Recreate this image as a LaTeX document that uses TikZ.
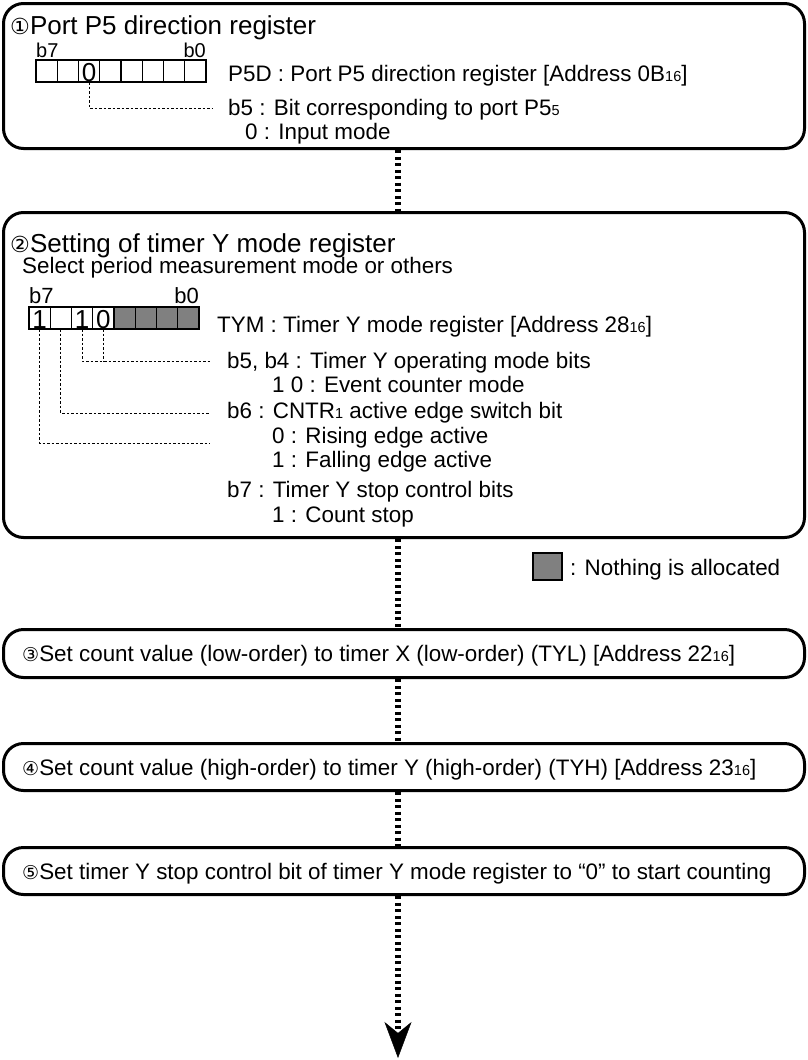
\documentclass[tikz,border=0pt]{standalone}
\usepackage{fontspec}
\setmainfont{Liberation Sans}
\newfontfamily\circfont[Scale=0.85]{DejaVu Sans}
\usetikzlibrary{arrows.meta,positioning,calc}

\newcommand{\low}[1]{{\fontsize{14.5}{14.5}\selectfont #1}}
\newcommand{\cnum}[1]{{\circfont #1}}

\tikzset{
  stepbox/.style={draw, line width=3pt, rounded corners=20pt, inner sep=0pt, minimum width=801pt},
  cell/.style={draw, line width=1.2pt, minimum width=21.25pt, minimum height=22pt, inner sep=0pt, outer sep=0pt},
  freecell/.style={cell, fill=gray},
  leader/.style={line width=1pt, dash pattern=on 2.5pt off 2pt},
  flow/.style={line width=6.5pt, dash pattern=on 3pt off 3.5pt},
  txt/.style={anchor=base west, inner sep=0pt, font=\fontsize{22.4}{26}\selectfont},
  ttl/.style={anchor=base west, inner sep=0pt, font=\fontsize{26}{30}\selectfont},
  bitlbl/.style={inner sep=0pt},
  bitval/.style={anchor=base, inner sep=0pt, font=\fontsize{26}{26}\selectfont},
}

\begin{document}
\begin{tikzpicture}[x=1pt, y=-1pt]
    \useasboundingbox (0,0) rectangle (808,1060);

    % Schritt-Kaesten
    \node[stepbox, minimum height=145pt] (s1) at (404,76) {};
    \node[stepbox, minimum height=325pt] (s2) at (404,375) {};
    \node[stepbox, minimum height=48pt] (s3) at (404,653.5) {};
    \node[stepbox, minimum height=47pt] (s4) at (404,767) {};
    \node[stepbox, minimum height=47pt] (s5) at (404,871) {};

    % 1: Port P5 direction register
    \node[ttl] (t1) at (10,34) {\cnum{①}Port P5 direction register};
    \foreach \i in {0,...,7}
        \node[cell] (p\i) at ({46.625+21.25*(7-\i)}, 71) {};
    \node[bitlbl, font=\fontsize{20}{20}\selectfont, anchor=base west] (p7l) at ([yshift=3pt]p7.north west) {b7};
    \node[bitlbl, font=\fontsize{20}{20}\selectfont, anchor=base east] (p0l) at ([yshift=3pt]p0.north east) {b0};
    \node[bitval] (p5v) at ([yshift=1pt]p5.south) {0};
    \node[txt] (p5d) at (228,81) {P5D : Port P5 direction register [Address 0B\low{16}]};
    \node[txt] (p5b) at (228,115) {b5 : Bit corresponding to port P5\low{5}};
    \node[txt] (p5m) at (245,139) {0 : Input mode};
    \coordinate (e5) at (213,108);
    \draw[leader] (p5.south) |- (e5);

    % 2: Setting of timer Y mode register
    \node[ttl] (t2) at (10,252) {\cnum{②}Setting of timer Y mode register};
    \node[txt] (t2s) at (22,273) {Select period measurement mode or others};
    \foreach \i in {7,...,4}
        \node[cell] (q\i) at ({39.625+21.25*(7-\i)}, 318) {};
    \foreach \i in {3,...,0}
        \node[freecell] (q\i) at ({39.625+21.25*(7-\i)}, 318) {};
    \node[bitlbl, font=\fontsize{22}{22}\selectfont, anchor=base west] (q7l) at ([yshift=4pt]q7.north west) {b7};
    \node[bitlbl, font=\fontsize{22}{22}\selectfont, anchor=base east] (q0l) at ([yshift=4pt]q0.north east) {b0};
    \node[bitval] (q7v) at ([yshift=1pt]q7.south) {1};
    \node[bitval] (q5v) at ([yshift=1pt]q5.south) {1};
    \node[bitval] (q4v) at ([yshift=1pt]q4.south) {0};
    \node[txt] (tym) at (217,332) {TYM : Timer Y mode register [Address 28\low{16}]};
    \node[txt] (b54) at (227,368) {b5, b4 : Timer Y operating mode bits};
    \node[txt] (b54m) at (272,392) {1 0 : Event counter mode};
    \node[txt] (b6) at (227,418) {b6 : CNTR\low{1} active edge switch bit};
    \node[txt] (b6r) at (272,443) {0 : Rising edge active};
    \node[txt] (b6f) at (272,467) {1 : Falling edge active};
    \node[txt] (b7) at (227,497) {b7 : Timer Y stop control bits};
    \node[txt] (b7s) at (272,522) {1 : Count stop};
    \coordinate (e54) at (210,361);
    \coordinate (e6) at (210,413);
    \coordinate (e7) at (210,443);
    \draw[leader] (q5.south) |- (e54);
    \draw[leader] (q4.south) -- (q4.south |- e54);
    \draw[leader] (q6.south) |- (e6);
    \draw[leader] (q7.south) |- (e7);

    % Legende
    \node[draw, line width=1.2pt, fill=gray, minimum width=29pt, minimum height=27pt, inner sep=0pt] (leg) at (547.5,566.5) {};
    \node[txt] (legt) at (570,575) {: Nothing is allocated};

    % 3 bis 5
    \node[txt] (t3) at (22,661.5) {\cnum{③}Set count value (low-order) to timer X (low-order) (TYL) [Address 22\low{16}]};
    \node[txt] (t4) at (22,775) {\cnum{④}Set count value (high-order) to timer Y (high-order) (TYH) [Address 23\low{16}]};
    \node[txt] (t5) at (22,879) {\cnum{⑤}Set timer Y stop control bit of timer Y mode register to “0” to start counting};

    % Ablauf
    \coordinate (end) at (398,1058);
    \draw[flow] ([xshift=-6pt]s1.south) -- ([xshift=-6pt]s2.north);
    \draw[flow] ([xshift=-6pt]s2.south) -- ([xshift=-6pt]s3.north);
    \draw[flow] ([xshift=-6pt]s3.south) -- ([xshift=-6pt]s4.north);
    \draw[flow] ([xshift=-6pt]s4.south) -- ([xshift=-6pt]s5.north);
    \draw[flow, -{Stealth[length=36pt, width=27pt, inset=11pt, line width=0.5pt]}] ([xshift=-6pt]s5.south) -- (end);
\end{tikzpicture}
\end{document}
